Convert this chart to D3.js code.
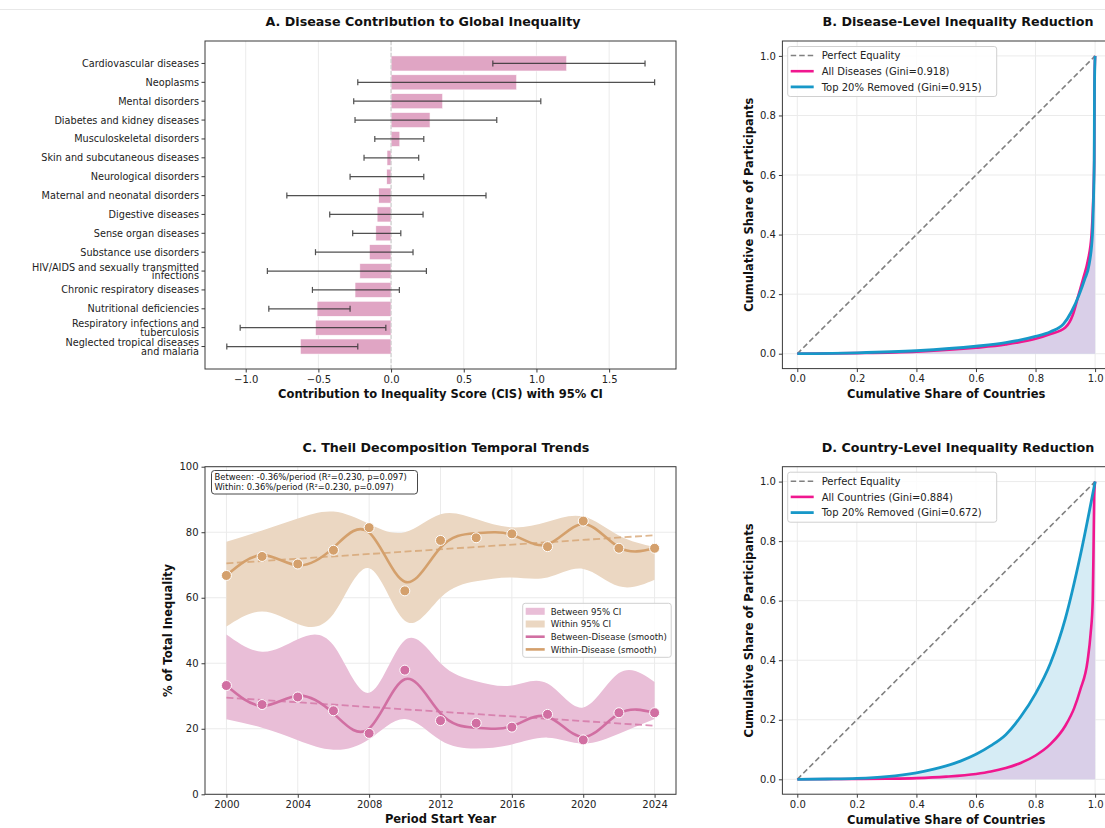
<!DOCTYPE html>
<html><head><meta charset="utf-8">
<script src="https://cdn.jsdelivr.net/npm/d3@7"></script>
<style>
body{margin:0;background:#fff;}
svg{display:block;font-family:"DejaVu Sans",sans-serif;}
</style></head><body>
<svg id="fig" width="1105" height="828"></svg>
<script>
// ---------- Panel A: disease contribution scores ----------
const diseaseLabels = [
  "Cardiovascular diseases", "Neoplasms", "Mental disorders", "Diabetes and kidney diseases",
  "Musculoskeletal disorders", "Skin and subcutaneous diseases", "Neurological disorders",
  "Maternal and neonatal disorders", "Digestive diseases", "Sense organ diseases",
  "Substance use disorders", "HIV/AIDS and sexually transmitted\ninfections",
  "Chronic respiratory diseases", "Nutritional deficiencies",
  "Respiratory infections and\ntuberculosis", "Neglected tropical diseases\nand malaria"
];
const cisScore = [1.208, 0.864, 0.355, 0.268, 0.060, -0.028, -0.030, -0.085, -0.096, -0.105, -0.149, -0.215, -0.248, -0.509, -0.520, -0.624];
const cisLow  = [0.700, -0.229, -0.257, -0.248, -0.112, -0.186, -0.282, -0.717, -0.422, -0.264, -0.520, -0.851, -0.541, -0.841, -1.038, -1.130];
const cisHigh = [1.747, 1.813, 1.030, 0.727, 0.225, 0.190, 0.225, 0.653, 0.220, 0.067, 0.151, 0.243, 0.057, -0.282, -0.036, -0.229];
const cisTicks = [-1.0, -0.5, 0.0, 0.5, 1.0, 1.5];

// ---------- Panel B: disease-level Lorenz curves ----------
const disLorenzAllX = [0, 0.2, 0.4, 0.6, 0.7, 0.8, 0.85, 0.9, 0.925, 0.945, 0.962, 0.975, 0.988, 0.993, 0.997, 0.998, 1.0];
const disLorenzAllY = [0, 0.002, 0.007, 0.020, 0.031, 0.050, 0.066, 0.088, 0.130, 0.200, 0.260, 0.310, 0.400, 0.500, 0.650, 0.900, 1.0];
const disLorenzTopX = [0, 0.2, 0.4, 0.6, 0.7, 0.8, 0.85, 0.894, 0.92, 0.947, 0.965, 0.98, 0.991, 0.994, 0.997, 0.998, 1.0];
const disLorenzTopY = [0, 0.003, 0.010, 0.025, 0.037, 0.058, 0.074, 0.100, 0.140, 0.200, 0.250, 0.300, 0.400, 0.500, 0.650, 0.900, 1.0];
const disLegend = ["Perfect Equality", "All Diseases (Gini=0.918)", "Top 20% Removed (Gini=0.915)"];

// ---------- Panel C: Theil decomposition over time ----------
const periodYears = [2000, 2002, 2004, 2006, 2008, 2010, 2012, 2014, 2016, 2018, 2020, 2022, 2024];
const betweenPct = [33.2, 27.4, 29.7, 25.5, 18.6, 37.9, 22.5, 21.7, 20.5, 24.4, 16.6, 24.9, 24.9];
const withinPct  = [66.8, 72.6, 70.3, 74.5, 81.4, 62.1, 77.5, 78.3, 79.5, 75.6, 83.4, 75.1, 75.1];
const betweenSmooth = [33.2, 27.0, 30.1, 24.7, 20.1, 35.1, 24.7, 20.3, 20.8, 23.7, 17.5, 24.6, 24.9];
const withinSmooth  = [66.8, 73.0, 69.9, 75.3, 79.9, 64.9, 75.3, 79.7, 79.2, 76.3, 82.5, 75.4, 75.1];
const betweenCiLo = [22.9, 20.3, 16.5, 13.6, 16.8, 23.0, 16.5, 14.0, 15.2, 17.3, 15.5, 18.5, 23.0];
const betweenCiHi = [48.8, 43.5, 47.3, 45.5, 31.0, 47.0, 40.0, 34.5, 33.2, 33.8, 26.5, 37.0, 34.3];
const withinCiLo  = [51.2, 55.8, 52.0, 55.0, 69.0, 53.0, 60.0, 65.0, 66.2, 66.2, 68.8, 63.5, 65.5];
const withinCiHi  = [77.1, 80.5, 84.2, 86.3, 82.5, 80.0, 85.5, 84.0, 81.5, 83.2, 84.8, 79.0, 75.5];
const trendText = ["Between: -0.36%/period (R\u00b2=0.230, p=0.097)", "Within: 0.36%/period (R\u00b2=0.230, p=0.097)"];
const theilLegend = ["Between 95% CI", "Within 95% CI", "Between-Disease (smooth)", "Within-Disease (smooth)"];
const yearTicks = [2000, 2004, 2008, 2012, 2016, 2020, 2024];
const pctTicks = [0, 20, 40, 60, 80, 100];

// ---------- Panel D: country-level Lorenz curves ----------
const ctyLorenzAllX = [0, 0.2, 0.3, 0.4, 0.5, 0.6, 0.65, 0.7, 0.75, 0.8, 0.85, 0.9, 0.93, 0.95, 0.975, 0.985, 0.992, 0.995, 0.997, 1.0];
const ctyLorenzAllY = [0, 0.001, 0.002, 0.004, 0.009, 0.018, 0.026, 0.038, 0.055, 0.080, 0.118, 0.180, 0.240, 0.300, 0.400, 0.490, 0.600, 0.800, 0.950, 1.0];
const ctyLorenzTopX = [0, 0.1, 0.2, 0.3, 0.4, 0.5, 0.55, 0.6, 0.65, 0.7, 0.75, 0.8, 0.85, 0.9, 0.95, 1.0];
const ctyLorenzTopY = [0, 0.001, 0.003, 0.009, 0.022, 0.045, 0.062, 0.084, 0.113, 0.150, 0.210, 0.288, 0.390, 0.540, 0.750, 1.0];
const ctyLegend = ["Perfect Equality", "All Countries (Gini=0.884)", "Top 20% Removed (Gini=0.672)"];
const shareTicks = [0, 0.2, 0.4, 0.6, 0.8, 1.0];

// ---------- shared styling ----------
const C = {
  bar: "#e0a5c4", err: "#333333", grid: "#ebebeb", spine: "#3a3a3a", text: "#222",
  between: "#d16fa2", betweenBand: "#e9bed7", within: "#d4a06c", withinBand: "#ebd7c2",
  magenta: "#f0178f", blue: "#1798c8", lavender: "#d9cfe8", skyFill: "#d6ecf5", equality: "#808080"
};
const fmtMinus = s => s.replace("-", "\u2212");
const svg = d3.select("#fig");

function frame(g, x0, y0, x1, y1) {
  g.append("rect").attr("x", x0).attr("y", y0).attr("width", x1 - x0).attr("height", y1 - y0)
    .attr("fill", "none").attr("stroke", C.spine).attr("stroke-width", 1);
}
function bottomAxis(g, scale, ticks, y, fmt) {
  const ax = g.append("g").attr("transform", `translate(0,${y})`)
    .call(d3.axisBottom(scale).tickValues(ticks).tickSize(3.5).tickPadding(3).tickFormat(fmt));
  ax.select(".domain").remove();
  ax.selectAll("line").attr("stroke", C.spine);
  ax.selectAll("text").attr("font-size", 10).attr("fill", C.text).attr("font-family", "DejaVu Sans");
}
function leftAxis(g, scale, ticks, x, fmt) {
  const ax = g.append("g").attr("transform", `translate(${x},0)`)
    .call(d3.axisLeft(scale).tickValues(ticks).tickSize(3.5).tickPadding(3).tickFormat(fmt));
  ax.select(".domain").remove();
  ax.selectAll("line").attr("stroke", C.spine);
  ax.selectAll("text").attr("font-size", 10).attr("fill", C.text).attr("font-family", "DejaVu Sans");
}
function title(txt, x, y) {
  svg.append("text").attr("x", x).attr("y", y).attr("text-anchor", "middle")
    .attr("font-size", 12.7).attr("font-weight", "bold").attr("fill", "#111").text(txt);
}
function axisLabel(txt, x, y, rotate) {
  const t = svg.append("text").attr("text-anchor", "middle").attr("font-size", 11.5)
    .attr("font-weight", "bold").attr("fill", "#111").text(txt);
  if (rotate) t.attr("transform", `translate(${x},${y}) rotate(-90)`);
  else t.attr("x", x).attr("y", y);
}

// thin rule along the top edge
svg.append("line").attr("x1", 0).attr("x2", 1105).attr("y1", 9.5).attr("y2", 9.5)
  .attr("stroke", "#e8e8e8").attr("stroke-width", 1);

// ================= Panel A =================
(function () {
  const L = 205, R = 676, T = 41, B = 369;
  const g = svg.append("g");
  const x = d3.scaleLinear().domain([-1.28, 1.96]).range([L, R]);
  const y = d3.scaleLinear().domain([-1.19, diseaseLabels.length - 1 + 1.19]).range([T, B]);
  const bh = y(0.4) - y(-0.4);

  g.selectAll(".vg").data(cisTicks).join("line")
    .attr("x1", d => x(d)).attr("x2", d => x(d)).attr("y1", T).attr("y2", B)
    .attr("stroke", C.grid).attr("stroke-width", 1);

  g.selectAll(".bar").data(cisScore).join("rect")
    .attr("x", d => x(Math.min(0, d))).attr("width", d => Math.abs(x(d) - x(0)))
    .attr("y", (d, i) => y(i) - bh / 2).attr("height", bh)
    .attr("fill", C.bar).attr("stroke", "#fff").attr("stroke-width", 0.6);

  g.append("line").attr("x1", x(0)).attr("x2", x(0)).attr("y1", T).attr("y2", B)
    .attr("stroke", "#c8c8c8").attr("stroke-width", 1).attr("stroke-dasharray", "4,2");

  const eb = g.selectAll(".eb").data(cisScore.map((d, i) => i)).join("g").attr("stroke", C.err)
    .attr("stroke-width", 1.2).attr("opacity", 0.85);
  eb.append("line").attr("x1", i => x(cisLow[i])).attr("x2", i => x(cisHigh[i]))
    .attr("y1", i => y(i)).attr("y2", i => y(i));
  eb.append("line").attr("x1", i => x(cisLow[i])).attr("x2", i => x(cisLow[i]))
    .attr("y1", i => y(i) - 3).attr("y2", i => y(i) + 3);
  eb.append("line").attr("x1", i => x(cisHigh[i])).attr("x2", i => x(cisHigh[i]))
    .attr("y1", i => y(i) - 3).attr("y2", i => y(i) + 3);

  frame(g, L, T, R, B);
  bottomAxis(g, x, cisTicks, B, d => fmtMinus(d3.format(".1f")(d)));

  // category labels (some wrapped onto two lines)
  diseaseLabels.forEach((lab, i) => {
    const yy = y(i);
    g.append("line").attr("x1", L - 3.5).attr("x2", L).attr("y1", yy).attr("y2", yy).attr("stroke", C.spine);
    const lines = lab.split("\n");
    const t = g.append("text").attr("text-anchor", "end").attr("font-size", 9.7).attr("fill", C.text);
    if (lines.length === 1) {
      t.append("tspan").attr("x", L - 6).attr("y", yy + 3.5).text(lines[0]);
    } else {
      t.append("tspan").attr("x", L - 6).attr("y", yy - 0.5).text(lines[0]);
      t.append("tspan").attr("x", L - 6).attr("y", yy + 8.4).text(lines[1]);
    }
  });

  title("A. Disease Contribution to Global Inequality", 423, 26);
  axisLabel("Contribution to Inequality Score (CIS) with 95% CI", (L + R) / 2, 398);
})();

// ================= Lorenz panels (B, D) =================
function lorenzPanel(T, B, allX, allY, topX, topY, legendItems, titleTxt) {
  const L = 782.4, R = 1110;
  const g = svg.append("g");
  const x = d3.scaleLinear().domain([-0.05, 1.05]).range([L, R]);
  const y = d3.scaleLinear().domain([-0.05, 1.05]).range([B, T]);
  shareTicks.forEach(v => {
    g.append("line").attr("x1", x(v)).attr("x2", x(v)).attr("y1", T).attr("y2", B).attr("stroke", C.grid);
    g.append("line").attr("x1", L).attr("x2", R).attr("y1", y(v)).attr("y2", y(v)).attr("stroke", C.grid);
  });
  const all = allX.map((v, i) => [v, allY[i]]);
  const top = topX.map((v, i) => [v, topY[i]]);
  const area = d3.area().x(d => x(d[0])).y0(y(0)).y1(d => y(d[1])).curve(d3.curveMonotoneX);
  const line = d3.line().x(d => x(d[0])).y(d => y(d[1])).curve(d3.curveMonotoneX);
  g.append("path").attr("d", area(top)).attr("fill", C.skyFill);
  g.append("path").attr("d", area(all)).attr("fill", C.lavender);
  g.append("line").attr("x1", x(0)).attr("y1", y(0)).attr("x2", x(1)).attr("y2", y(1))
    .attr("stroke", C.equality).attr("stroke-width", 1.6).attr("stroke-dasharray", "5.5,3");
  g.append("path").attr("d", line(all)).attr("fill", "none").attr("stroke", C.magenta).attr("stroke-width", 2.6);
  g.append("path").attr("d", line(top)).attr("fill", "none").attr("stroke", C.blue).attr("stroke-width", 2.8);
  frame(g, L, T, R, B);
  bottomAxis(g, x, shareTicks, B, d3.format(".1f"));
  leftAxis(g, y, shareTicks, L, d3.format(".1f"));

  // legend
  const lx = 787.7, ly = T + 5.5, lw = 209, lh = 50;
  g.append("rect").attr("x", lx).attr("y", ly).attr("width", lw).attr("height", lh).attr("rx", 2.5)
    .attr("fill", "#fff").attr("fill-opacity", 0.85).attr("stroke", "#d0d0d0");
  const styles = [
    { c: C.equality, w: 1.6, dash: "5.5,3" }, { c: C.magenta, w: 2.6 }, { c: C.blue, w: 2.8 }
  ];
  legendItems.forEach((txt, i) => {
    const yy = ly + 9 + i * 15.7;
    const s = styles[i];
    g.append("line").attr("x1", lx + 3).attr("x2", lx + 26).attr("y1", yy).attr("y2", yy)
      .attr("stroke", s.c).attr("stroke-width", s.w).attr("stroke-dasharray", s.dash || null);
    g.append("text").attr("x", lx + 34).attr("y", yy + 3.6).attr("font-size", 10).attr("fill", C.text).text(txt);
  });
  title(titleTxt, 958, T - 15);
  axisLabel("Cumulative Share of Countries", (L + R) / 2, B + 29.5);
  axisLabel("Cumulative Share of Participants", 753, (T + B) / 2, true);
}
lorenzPanel(41, 368.6, disLorenzAllX, disLorenzAllY, disLorenzTopX, disLorenzTopY, disLegend, "B. Disease-Level Inequality Reduction");
lorenzPanel(466.7, 794.2, ctyLorenzAllX, ctyLorenzAllY, ctyLorenzTopX, ctyLorenzTopY, ctyLegend, "D. Country-Level Inequality Reduction");

// ================= Panel C =================
(function () {
  const L = 205, R = 676, T = 466.7, B = 794.3;
  const g = svg.append("g");
  const x = d3.scaleLinear().domain([1998.8, 2025.2]).range([L, R]);
  const y = d3.scaleLinear().domain([0, 100]).range([B, T]);
  yearTicks.forEach(v => g.append("line").attr("x1", x(v)).attr("x2", x(v)).attr("y1", T).attr("y2", B).attr("stroke", C.grid));
  pctTicks.forEach(v => g.append("line").attr("x1", L).attr("x2", R).attr("y1", y(v)).attr("y2", y(v)).attr("stroke", C.grid));

  const band = (lo, hi) => d3.area().x((d, i) => x(periodYears[i])).y0((d, i) => y(lo[i])).y1((d, i) => y(hi[i])).curve(d3.curveNatural)(periodYears);
  g.append("path").attr("d", band(betweenCiLo, betweenCiHi)).attr("fill", C.betweenBand);
  g.append("path").attr("d", band(withinCiLo, withinCiHi)).attr("fill", C.withinBand);

  // linear trends fitted to each share series
  function fit(vals) {
    const mx = d3.mean(periodYears), my = d3.mean(vals);
    const sxy = d3.sum(periodYears, (t, i) => (t - mx) * (vals[i] - my));
    const sxx = d3.sum(periodYears, t => (t - mx) ** 2);
    const b = sxy / sxx;
    return t => my + b * (t - mx);
  }
  [[betweenPct, C.between], [withinPct, C.within]].forEach(([vals, col]) => {
    const f = fit(vals);
    const x0 = periodYears[0], x1 = periodYears[periodYears.length - 1];
    g.append("line").attr("x1", x(x0)).attr("x2", x(x1)).attr("y1", y(f(x0))).attr("y2", y(f(x1)))
      .attr("stroke", col).attr("stroke-width", 1.8).attr("stroke-opacity", 0.75).attr("stroke-dasharray", "7,3.5");
  });

  const smooth = vals => d3.line().x((d, i) => x(periodYears[i])).y((d, i) => y(vals[i])).curve(d3.curveNatural)(periodYears);
  g.append("path").attr("d", smooth(betweenSmooth)).attr("fill", "none").attr("stroke", C.between).attr("stroke-width", 2.6);
  g.append("path").attr("d", smooth(withinSmooth)).attr("fill", "none").attr("stroke", C.within).attr("stroke-width", 2.6);

  [[betweenPct, C.between], [withinPct, C.within]].forEach(([vals, col]) => {
    g.selectAll(null).data(vals).join("circle")
      .attr("cx", (d, i) => x(periodYears[i])).attr("cy", d => y(d)).attr("r", 5)
      .attr("fill", col).attr("stroke", "#fff").attr("stroke-width", 1);
  });

  frame(g, L, T, R, B);
  bottomAxis(g, x, yearTicks, B, d3.format("d"));
  leftAxis(g, y, pctTicks, L, d3.format("d"));

  // regression summary box
  g.append("rect").attr("x", 211.5).attr("y", 470.5).attr("width", 206).attr("height", 23.5).attr("rx", 3)
    .attr("fill", "#fff").attr("stroke", "#333").attr("stroke-width", 0.9);
  trendText.forEach((t, i) => g.append("text").attr("x", 214.5).attr("y", 480 + i * 10)
    .attr("font-size", 8.4).attr("fill", "#111").text(t));

  // legend
  const lx = 522.7, ly = 603.3, lw = 148.5, lh = 54;
  g.append("rect").attr("x", lx).attr("y", ly).attr("width", lw).attr("height", lh).attr("rx", 2.5)
    .attr("fill", "#fff").attr("fill-opacity", 0.85).attr("stroke", "#d0d0d0");
  theilLegend.forEach((txt, i) => {
    const yy = ly + 8 + i * 12.7;
    if (i < 2) {
      g.append("rect").attr("x", lx + 3).attr("y", yy - 3.5).attr("width", 19).attr("height", 7)
        .attr("fill", i === 0 ? C.betweenBand : C.withinBand);
    } else {
      g.append("line").attr("x1", lx + 3).attr("x2", lx + 22).attr("y1", yy).attr("y2", yy)
        .attr("stroke", i === 2 ? C.between : C.within).attr("stroke-width", 2.6);
    }
    g.append("text").attr("x", lx + 28).attr("y", yy + 3.2).attr("font-size", 8.6).attr("fill", C.text).text(txt);
  });

  title("C. Theil Decomposition Temporal Trends", 446, 452);
  axisLabel("Period Start Year", (L + R) / 2, 823);
  axisLabel("% of Total Inequality", 172, (T + B) / 2, true);
})();
</script>
</body></html>
